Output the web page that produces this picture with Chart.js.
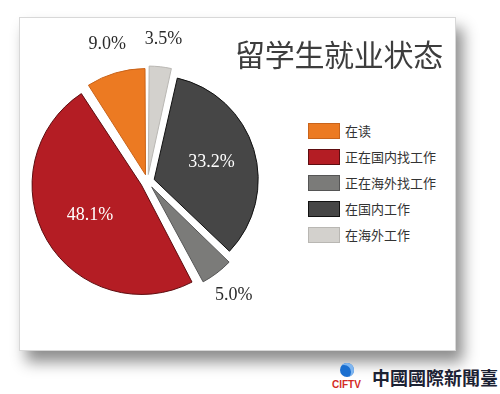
<!DOCTYPE html>
<html>
<head>
<meta charset="utf-8">
<script src="https://cdn.jsdelivr.net/npm/chart.js@4.4.1/dist/chart.umd.min.js"></script>
<style>
  body {
    margin: 0;
    width: 500px;
    height: 394px;
    background: #fff;
    position: relative;
    overflow: hidden;
    font-family: "Noto Sans CJK SC", "Noto Sans", sans-serif;
  }
  #card {
    position: absolute;
    left: 19px;
    top: 17px;
    width: 435px;
    height: 332px;
    background: #fff;
    border: 1px solid #d8d8d8;
    box-shadow: 7px 11px 14px rgba(0, 0, 0, 0.45);
  }
  #pieWrap {
    position: absolute;
    left: 20px;
    top: 18px;
  }
  #title {
    position: absolute;
    left: 235px;
    top: 31px;
    font-size: 30px;
    color: #3d3d3d;
    letter-spacing: -0.3px;
    white-space: nowrap;
  }
  #legend {
    position: absolute;
    left: 308px;
    top: 123px;
  }
  .item {
    height: 26px;
    display: flex;
    align-items: flex-start;
  }
  .box {
    width: 30px;
    height: 14px;
    border: 1px solid;
  }
  .lbl {
    margin-left: 5px;
    font-size: 13px;
    line-height: 16px;
    color: #333;
  }
  #logo {
    position: absolute;
    left: 330px;
    top: 360px;
    width: 170px;
    height: 32px;
  }
  #swirl {
    position: absolute;
    left: 10px;
    top: 3px;
    width: 14px;
    height: 14px;
    border-radius: 50%;
    background: #1a6fd0;
    box-shadow: inset -3px 2px 0 #7fb6f0;
  }
  #ciftv {
    position: absolute;
    left: 2px;
    top: 19px;
    font-family: "Liberation Sans", Arial, sans-serif;
    font-weight: bold;
    font-size: 10px;
    color: #d42a24;
  }
  #cname {
    position: absolute;
    left: 42px;
    top: 4px;
    font-family: "Noto Sans CJK TC", sans-serif;
    font-weight: bold;
    font-size: 18px;
    color: #1c2233;
    white-space: nowrap;
  }
</style>
</head>
<body>
<div id="card"></div>
<div id="pieWrap"><canvas id="pieChart" width="260" height="330"></canvas></div>
<div id="title">留学生就业状态</div>
<div id="legend"></div>
<div id="logo">
  <div id="swirl"></div>
  <div id="ciftv">CIFTV</div>
  <div id="cname">中國國際新聞臺</div>
</div>

<script>
// slices, clockwise from 12 o'clock
const labels = ["在海外工作", "在国内工作", "正在海外找工作", "正在国内找工作", "在读"];
const values = [3.5, 33.2, 5.0, 48.1, 9.0];
const colors = ["#d3d1cd", "#464646", "#7b7b79", "#b41d24", "#ec7a22"];
const borders = ["#b9b7b3", "#111111", "#555555", "#5e0d10", "#c9641b"];

// legend order as in the picture (reverse of draw order)
const legendOrder = [4, 3, 2, 1, 0];

const EXPLODE = 7; // px every slice is pushed out (chart.js moves arcs by offset/4)

// percentage labels: big slices inside (white), small ones outside (dark)
const pctLabels = {
  id: "pctLabels",
  afterDatasetsDraw(chart) {
    const ctx = chart.ctx;
    const meta = chart.getDatasetMeta(0);
    ctx.save();
    ctx.font = "18px 'Liberation Serif', 'DejaVu Serif', serif";
    ctx.textAlign = "center";
    ctx.textBaseline = "middle";
    meta.data.forEach((arc, i) => {
      const p = arc.getProps(["x", "y", "startAngle", "endAngle", "outerRadius"], true);
      const mid = (p.startAngle + p.endAngle) / 2;
      const inside = values[i] > 10;
      const dist = inside ? p.outerRadius * 0.58 + EXPLODE : p.outerRadius * 1.32 + EXPLODE;
      const x = p.x + Math.cos(mid) * dist;
      const y = p.y + Math.sin(mid) * dist;
      ctx.fillStyle = inside ? "#ffffff" : "#2b2b2b";
      ctx.fillText(values[i].toFixed(1) + "%", x, y);
    });
    ctx.restore();
  },
};

function buildLegend() {
  const el = document.getElementById("legend");
  legendOrder.forEach((i) => {
    const row = document.createElement("div");
    row.className = "item";
    const box = document.createElement("div");
    box.className = "box";
    box.style.background = colors[i];
    box.style.borderColor = borders[i];
    const txt = document.createElement("div");
    txt.className = "lbl";
    txt.textContent = labels[i];
    row.appendChild(box);
    row.appendChild(txt);
    el.appendChild(row);
  });
}

function initChart() {
  const ctx = document.getElementById("pieChart").getContext("2d");
  new Chart(ctx, {
    type: "pie",
    data: {
      labels: labels,
      datasets: [
        {
          data: values,
          backgroundColor: colors,
          borderColor: borders,
          borderWidth: 1,
          offset: EXPLODE * 4,
          hoverOffset: 0,
        },
      ],
    },
    options: {
      responsive: false,
      animation: false,
      rotation: 0,
      layout: {
        padding: { left: 10, top: 46, right: 15, bottom: 49 },
      },
      plugins: {
        legend: { display: false },
        tooltip: { enabled: false },
      },
    },
    plugins: [pctLabels],
  });
}

document.addEventListener("DOMContentLoaded", () => {
  buildLegend();
  initChart();
});
</script>
</body>
</html>
